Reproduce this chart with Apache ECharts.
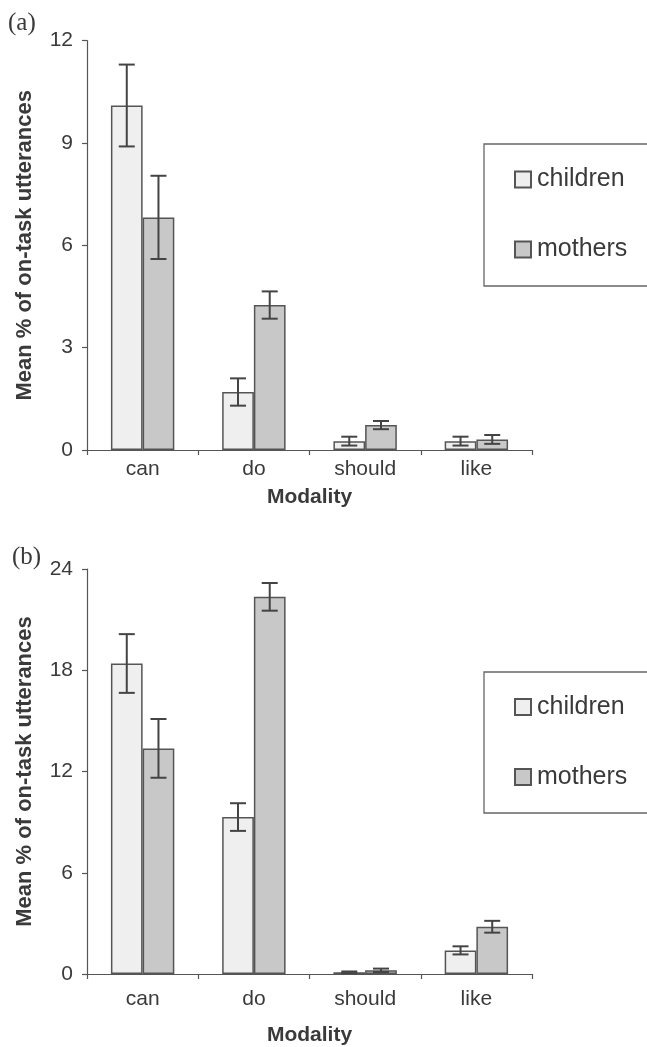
<!DOCTYPE html>
<html>
<head>
<meta charset="utf-8">
<script src="https://cdn.jsdelivr.net/npm/echarts@6/dist/echarts.min.js"></script>
<style>html,body{margin:0;padding:0;background:#fff}#c{width:647px;height:1047px}</style>
</head>
<body>
<div id="c"></div>
<script>
var categories = ['can', 'do', 'should', 'like'];
var seriesNames = ['children', 'mothers'];
// Panel (a)
var aChildren = [10.1, 1.7, 0.26, 0.26];
var aChildrenErr = [1.2, 0.4, 0.13, 0.13];
var aMothers = [6.82, 4.25, 0.73, 0.31];
var aMothersErr = [1.22, 0.4, 0.12, 0.13];
var aTicks = [0, 3, 6, 9, 12];
// Panel (b)
var bChildren = [18.4, 9.3, 0.1, 1.4];
var bChildrenErr = [1.74, 0.82, 0.05, 0.24];
var bMothers = [13.37, 22.35, 0.22, 2.8];
var bMothersErr = [1.74, 0.82, 0.1, 0.35];
var bTicks = [0, 6, 12, 18, 24];

var FONT = '"Liberation Sans", Arial, Helvetica, sans-serif';
var TXT = '#3a3a3a';
var AX = '#555';
var GAP = 0.43;

function errData(means, errs) {
  return means.map(function (m, i) { return [i, m - errs[i], m + errs[i]]; });
}
function errRender(sign) {
  return function (params, api) {
    var i = api.value(0);
    var lo = api.coord([i, api.value(1)]);
    var hi = api.coord([i, api.value(2)]);
    var cw = api.size([1, 0])[0];
    var bw = cw * (1 - GAP) / 2;
    var cx = lo[0] + sign * bw / 2;
    var cap = 8;
    var st = { stroke: '#444', lineWidth: 2 };
    return { type: 'group', children: [
      { type: 'line', shape: { x1: cx, y1: lo[1], x2: cx, y2: hi[1] }, style: st },
      { type: 'line', shape: { x1: cx - cap, y1: lo[1], x2: cx + cap, y2: lo[1] }, style: st },
      { type: 'line', shape: { x1: cx - cap, y1: hi[1], x2: cx + cap, y2: hi[1] }, style: st }
    ] };
  };
}
function xAxis(gi, labelMargin, nameGap) {
  return {
    type: 'category', gridIndex: gi, data: categories,
    name: 'Modality', nameLocation: 'middle', nameGap: nameGap,
    nameTextStyle: { fontFamily: FONT, fontSize: 21, fontWeight: 'bold', color: TXT },
    axisLine: { lineStyle: { color: AX, width: 1.2 } },
    axisTick: { show: true, length: 5, lineStyle: { color: AX, width: 1.2 }, alignWithLabel: false },
    axisLabel: { fontFamily: FONT, fontSize: 21, color: TXT, margin: labelMargin },
    splitLine: { show: false }
  };
}
function yAxis(gi, ticks) {
  return {
    type: 'value', gridIndex: gi, min: ticks[0], max: ticks[ticks.length - 1],
    interval: ticks[1] - ticks[0],
    name: 'Mean % of on-task utterances', nameLocation: 'middle', nameGap: 51,
    nameTextStyle: { fontFamily: FONT, fontSize: 22, fontWeight: 'bold', color: TXT },
    axisLine: { show: true, lineStyle: { color: AX, width: 1.2 } },
    axisTick: { show: true, length: 5, lineStyle: { color: AX, width: 1.2 } },
    axisLabel: { fontFamily: FONT, fontSize: 21, color: TXT, margin: 14 },
    splitLine: { show: false }
  };
}
var childStyle = { color: '#efefef', borderColor: '#555', borderWidth: 1.5 };
var motherStyle = { color: '#c8c8c8', borderColor: '#555', borderWidth: 1.5 };
function bars(gi, ch, mo) {
  return [
    { name: seriesNames[0], type: 'bar', xAxisIndex: gi, yAxisIndex: gi, data: ch,
      barGap: '0%', barCategoryGap: (GAP * 100) + '%', itemStyle: childStyle, silent: true },
    { name: seriesNames[1], type: 'bar', xAxisIndex: gi, yAxisIndex: gi, data: mo,
      barGap: '0%', barCategoryGap: (GAP * 100) + '%', itemStyle: motherStyle, silent: true }
  ];
}
function errs(gi, ch, che, mo, moe) {
  return [
    { type: 'custom', xAxisIndex: gi, yAxisIndex: gi, data: errData(ch, che), renderItem: errRender(-1),
      encode: { x: 0, y: [1, 2] }, z: 5, silent: true },
    { type: 'custom', xAxisIndex: gi, yAxisIndex: gi, data: errData(mo, moe), renderItem: errRender(1),
      encode: { x: 0, y: [1, 2] }, z: 5, silent: true }
  ];
}
function legend(top) {
  return {
    orient: 'vertical', left: 514, top: top, padding: 0, itemWidth: 16, itemHeight: 16, itemGap: 45,
    icon: 'rect', data: seriesNames, selectedMode: false,
    textStyle: { fontFamily: FONT, fontSize: 25, color: TXT, lineHeight: 25, padding: [0, 0, 0, 1] }
  };
}

var chart = echarts.init(document.getElementById('c'), null, { renderer: 'canvas' });
chart.setOption({
  backgroundColor: '#fff',
  animation: false,
  grid: [
    { left: 87, right: 115, top: 40.7, height: 409.3 },
    { left: 87, right: 115, top: 569, height: 406 }
  ],
  xAxis: [xAxis(0, 9, 37), xAxis(1, 15, 51)],
  yAxis: [yAxis(0, aTicks), yAxis(1, bTicks)],
  legend: [legend(167), legend(694.5)],
  graphic: [
    { type: 'rect', shape: { x: 484, y: 144, width: 200, height: 142 }, style: { fill: 'none', stroke: '#666', lineWidth: 1.3 } },
    { type: 'rect', shape: { x: 484, y: 672, width: 200, height: 141 }, style: { fill: 'none', stroke: '#666', lineWidth: 1.3 } },
    { type: 'text', left: 8, top: 11, style: { text: '(a)', font: '25px "Liberation Serif", "Times New Roman", serif', fill: TXT } },
    { type: 'text', left: 12, top: 545, style: { text: '(b)', font: '25px "Liberation Serif", "Times New Roman", serif', fill: TXT } }
  ],
  series: [].concat(
    bars(0, aChildren, aMothers), errs(0, aChildren, aChildrenErr, aMothers, aMothersErr),
    bars(1, bChildren, bMothers), errs(1, bChildren, bChildrenErr, bMothers, bMothersErr)
  )
});
</script>
</body>
</html>
